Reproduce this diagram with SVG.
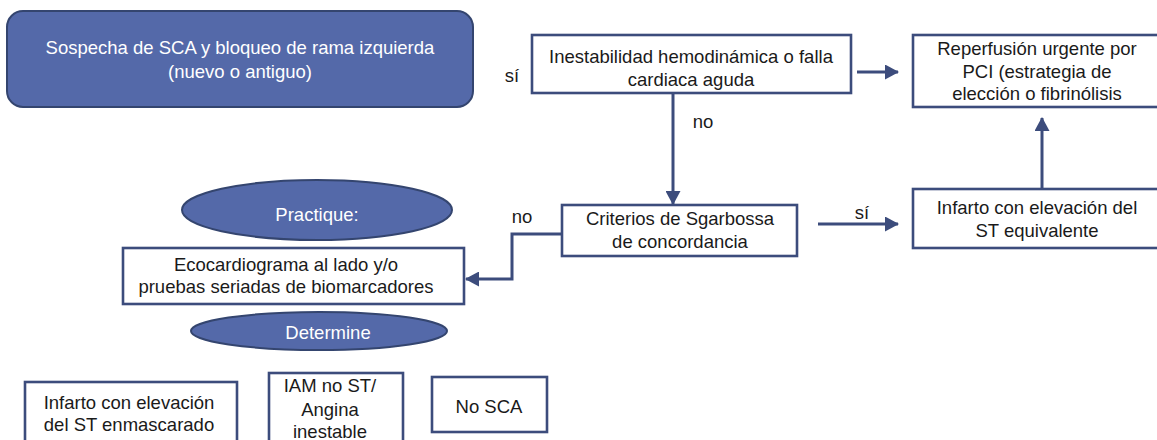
<svg xmlns="http://www.w3.org/2000/svg" width="1157" height="440" viewBox="0 0 1157 440">
<defs>
<style>
.box{fill:#fff;stroke:#3C4C7C;stroke-width:2.6}
.blue{fill:#5469A9;stroke:#34456F;stroke-width:2}
.t{font-family:"Liberation Sans",Arial,sans-serif;font-size:18.5px;fill:#1a1a1a;text-anchor:middle}
.w{fill:#fff}
.lbl{font-family:"Liberation Sans",Arial,sans-serif;font-size:18.5px;fill:#1a1a1a;text-anchor:middle}
.c{fill:none;stroke:#3C4C7C;stroke-width:3}
</style>
<marker id="ah" markerUnits="userSpaceOnUse" markerWidth="14" markerHeight="15" refX="13" refY="7.5" orient="auto">
<path d="M0,0 L14,7.5 L0,15 z" fill="#3C4C7C"/>
</marker>
</defs>
<rect width="1157" height="440" fill="#fff"/>

<g id="connectors">
<line class="c" x1="673" y1="94" x2="673" y2="204" marker-end="url(#ah)"/>
<line class="c" x1="857" y1="72" x2="898" y2="72" marker-end="url(#ah)"/>
<line class="c" x1="818" y1="224" x2="898" y2="224" marker-end="url(#ah)"/>
<line class="c" x1="1042" y1="189" x2="1042" y2="118" marker-end="url(#ah)"/>
<polyline class="c" points="562,234 512,234 512,279 466,279" marker-end="url(#ah)"/>
</g>

<g id="labels">
<text class="lbl" x="512" y="82">sí</text>
<text class="lbl" x="703" y="128">no</text>
<text class="lbl" x="522" y="223">no</text>
<text class="lbl" x="862" y="219">sí</text>
</g>

<g id="n-sospecha">
<rect class="blue" x="7" y="11" width="466" height="96" rx="16"/>
<text class="t w" x="240" y="54">Sospecha de SCA y bloqueo de rama izquierda</text>
<text class="t w" x="240" y="78">(nuevo o antiguo)</text>
</g>

<g id="n-inestabilidad">
<rect class="box" x="532" y="35" width="319" height="58"/>
<text class="t" x="691" y="63">Inestabilidad hemodinámica o falla</text>
<text class="t" x="691" y="86">cardiaca aguda</text>
</g>

<g id="n-reperfusion">
<rect class="box" x="913" y="35" width="250" height="72"/>
<text class="t" x="1037" y="55">Reperfusión urgente por</text>
<text class="t" x="1037" y="78">PCI (estrategia de</text>
<text class="t" x="1037" y="100">elección o fibrinólisis</text>
</g>

<g id="n-infarto-eq">
<rect class="box" x="913" y="189" width="250" height="59"/>
<text class="t" x="1037" y="214">Infarto con elevación del</text>
<text class="t" x="1037" y="237">ST equivalente</text>
</g>

<g id="n-criterios">
<rect class="box" x="562" y="205" width="235" height="51"/>
<text class="t" x="680" y="225">Criterios de Sgarbossa</text>
<text class="t" x="680" y="248">de concordancia</text>
</g>

<g id="n-practique">
<ellipse class="blue" cx="317" cy="210" rx="135" ry="30"/>
<text class="t w" x="317" y="221">Practique:</text>
</g>

<g id="n-eco">
<rect class="box" x="123" y="248" width="341" height="56"/>
<text class="t" x="286" y="271">Ecocardiograma al lado y/o</text>
<text class="t" x="286" y="293">pruebas seriadas de biomarcadores</text>
</g>

<g id="n-determine">
<ellipse class="blue" cx="319" cy="331" rx="128" ry="19"/>
<text class="t w" x="328" y="339">Determine</text>
</g>

<g id="n-infarto-enm">
<rect class="box" x="25" y="382" width="212" height="70"/>
<text class="t" x="129" y="409">Infarto con elevación</text>
<text class="t" x="129" y="431">del ST enmascarado</text>
</g>

<g id="n-iam">
<rect class="box" x="269" y="373" width="134" height="80"/>
<text class="t" x="330" y="392">IAM no ST/</text>
<text class="t" x="330" y="416">Angina</text>
<text class="t" x="330" y="438">inestable</text>
</g>

<g id="n-nosca">
<rect class="box" x="432" y="377" width="115" height="55"/>
<text class="t" x="489" y="413">No SCA</text>
</g>
</svg>
